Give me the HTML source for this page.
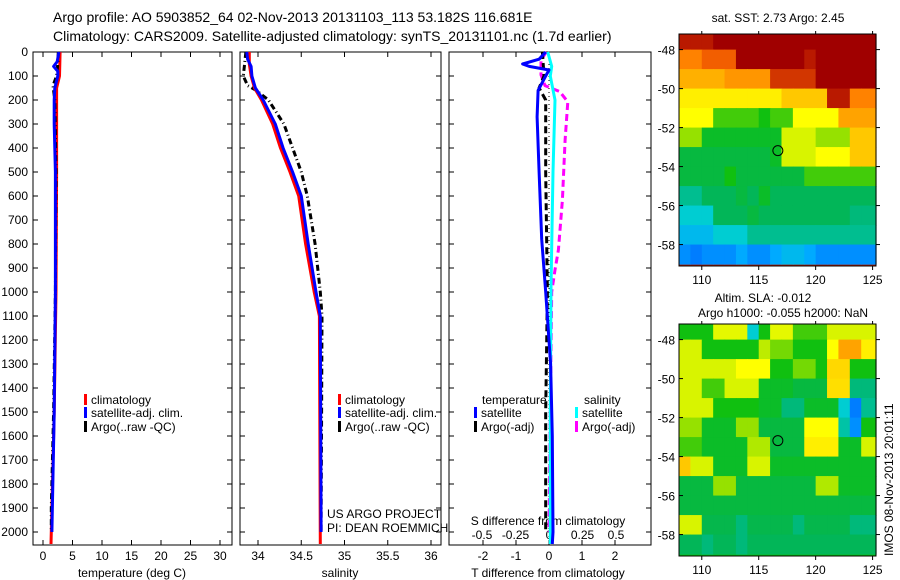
<!DOCTYPE html>
<html><head><meta charset="utf-8"><style>
html,body{margin:0;padding:0;background:#fff;}
svg{display:block;font-family:"Liberation Sans",Arial,sans-serif;}
</style></head><body>
<svg id="fig" width="900" height="580" viewBox="0 0 900 580">
<text x="53" y="22" font-size="14">Argo profile: AO 5903852_64 02-Nov-2013 20131103_113 53.182S 116.681E</text>
<text x="53" y="41" font-size="14">Climatology: CARS2009. Satellite-adjusted climatology: synTS_20131101.nc (1.7d earlier)</text>
</svg>
<script>
// ---------- data ----------
const depthTicks = [0,100,200,300,400,500,600,700,800,900,1000,1100,1200,1300,1400,1500,1600,1700,1800,1900,2000];
const tempTicks = [0,5,10,15,20,25,30];
const salTicks = [34,34.5,35,35.5,36];
const salTickLabels = ["34","34.5","35","35.5","36"];
const tdTicks = [-2,-1,0,1,2];
const sdTicks = [-0.5,-0.25,0,0.25,0.5];
const sdTickLabels = ["-0.5","-0.25","0","0.25","0.5"];

const climTDepth = [0,100,150,200,500,1000,1500,2050];
const climTVal   = [2.9,2.8,2.3,2.3,2.3,2.2,1.9,1.35];
const satTDepth  = [0,40,60,80,100,150,200,300,500,1000,1500,2000];
const satTVal    = [2.7,2.4,1.8,2.5,2.5,2.0,1.9,1.9,2.1,2.1,1.9,1.5];
const argoTDepth = [0,50,100,140,200,500,1000,1500,1900,2000];
const argoTVal   = [2.6,2.5,2.3,1.7,2.0,2.2,2.1,1.8,1.4,1.4];

const climSDepth = [0,50,100,150,200,300,400,500,600,800,1000,1100,2050];
const climSVal   = [33.9,33.9,33.92,33.96,34.04,34.17,34.26,34.37,34.47,34.55,34.65,34.71,34.72];
const satSDepth  = [0,30,60,100,150,200,300,400,500,600,800,1000,1100,2000];
const satSVal    = [33.87,33.88,33.92,33.93,33.97,34.06,34.2,34.29,34.4,34.5,34.58,34.67,34.72,34.73];
const argoSDepth = [0,100,140,160,200,300,400,500,600,800,1000,1100,2000];
const argoSVal   = [33.86,33.83,33.88,33.98,34.12,34.3,34.4,34.5,34.57,34.66,34.72,34.74,34.73];

const tdSatDepth = [0,30,50,60,75,100,160,270,500,780,1000,1300,1600,2000,2050];
const tdSatVal   = [-0.1,-0.3,-0.8,-0.6,0,-0.1,-0.33,-0.36,-0.3,-0.22,-0.1,0.05,0.1,0.12,0.1];
const tdArgoDepth = [0,100,150,200,500,1000,1500,2000];
const tdArgoVal   = [-0.2,-0.15,-0.3,-0.1,-0.1,-0.05,-0.1,-0.1];
const sdSatDepth = [0,60,100,200,500,980,1500,2050];
const sdSatVal   = [-0.01,0.02,0.01,0.045,0.03,0.015,0.01,0.01];
const sdArgoDepth = [0,33,95,140,165,208,367,617,825,908,1000,1500,2000];
const sdArgoVal   = [-0.02,-0.06,-0.06,-0.03,0.08,0.14,0.12,0.1,0.07,0.045,0.02,0.01,0.0];

const mapLatTicks = [-48,-50,-52,-54,-56,-58];
const mapLonTicks = [110,115,120,125];
// normalized colour values, rows lat -47.5..-58.5, cols lon 108.5..124.5
const sstGrid = [
[0.9,0.9,0.9,1,1,1,1,1,1,1,1,1,1,1,1,1,1],
[0.75,0.75,0.8,0.8,0.8,1,1,1,1,1,1,0.9,1,1,1,1,1],
[0.68,0.68,0.68,0.68,0.72,0.72,0.72,0.72,0.85,0.85,0.85,0.85,1,1,1,1,1],
[0.6,0.6,0.6,0.6,0.6,0.6,0.6,0.6,0.6,0.65,0.65,0.65,0.65,0.9,0.9,0.75,0.75],
[0.58,0.58,0.58,0.45,0.45,0.45,0.45,0.42,0.45,0.45,0.58,0.58,0.58,0.58,0.7,0.7,0.7],
[0.5,0.5,0.4,0.4,0.4,0.4,0.4,0.4,0.4,0.55,0.55,0.55,0.5,0.5,0.5,0.65,0.65],
[0.38,0.38,0.38,0.38,0.38,0.38,0.38,0.38,0.4,0.55,0.55,0.55,0.58,0.58,0.58,0.65,0.65],
[0.38,0.38,0.38,0.38,0.42,0.38,0.38,0.38,0.38,0.38,0.38,0.45,0.45,0.45,0.45,0.45,0.45],
[0.33,0.33,0.36,0.36,0.36,0.38,0.36,0.4,0.36,0.36,0.36,0.36,0.36,0.36,0.36,0.36,0.36],
[0.3,0.3,0.3,0.36,0.36,0.36,0.38,0.36,0.36,0.36,0.36,0.36,0.36,0.36,0.36,0.34,0.34],
[0.27,0.27,0.27,0.3,0.3,0.3,0.33,0.33,0.33,0.33,0.33,0.33,0.33,0.33,0.33,0.33,0.33],
[0.22,0.2,0.22,0.22,0.22,0.25,0.22,0.22,0.25,0.27,0.27,0.25,0.22,0.22,0.22,0.22,0.22]];
const slaGrid = [
[0.42,0.42,0.42,0.56,0.56,0.56,0.3,0.42,0.56,0.56,0.45,0.45,0.45,0.55,0.55,0.55,0.55],
[0.55,0.55,0.42,0.42,0.42,0.42,0.42,0.53,0.48,0.48,0.42,0.42,0.42,0.58,0.7,0.7,0.6],
[0.55,0.55,0.55,0.55,0.55,0.58,0.58,0.58,0.42,0.42,0.48,0.48,0.42,0.63,0.63,0.42,0.42],
[0.55,0.55,0.45,0.45,0.55,0.55,0.55,0.4,0.4,0.4,0.38,0.38,0.38,0.62,0.62,0.34,0.34],
[0.55,0.55,0.55,0.42,0.42,0.42,0.42,0.4,0.4,0.34,0.34,0.4,0.4,0.4,0.3,0.2,0.33],
[0.5,0.5,0.4,0.4,0.4,0.5,0.5,0.38,0.38,0.38,0.38,0.58,0.58,0.58,0.32,0.22,0.42],
[0.45,0.45,0.4,0.4,0.4,0.4,0.52,0.52,0.38,0.38,0.38,0.6,0.6,0.6,0.4,0.4,0.55],
[0.65,0.55,0.55,0.4,0.4,0.4,0.55,0.55,0.4,0.4,0.4,0.4,0.4,0.4,0.4,0.4,0.4],
[0.38,0.38,0.38,0.5,0.5,0.38,0.38,0.38,0.38,0.38,0.38,0.38,0.52,0.52,0.4,0.4,0.4],
[0.38,0.38,0.38,0.38,0.38,0.38,0.38,0.38,0.38,0.38,0.38,0.38,0.38,0.38,0.38,0.38,0.38],
[0.55,0.55,0.37,0.37,0.37,0.34,0.37,0.37,0.37,0.37,0.34,0.37,0.37,0.37,0.37,0.34,0.34],
[0.36,0.36,0.34,0.36,0.36,0.34,0.36,0.36,0.36,0.36,0.36,0.36,0.36,0.36,0.36,0.36,0.36]];
const argoLon = 116.681, argoLat = -53.182;

// ---------- helpers ----------
const svg = document.getElementById('fig');
const NS = 'http://www.w3.org/2000/svg';
function mk(tag, attrs, parent){ const e=document.createElementNS(NS,tag); for(const k in attrs) e.setAttribute(k,attrs[k]); (parent||svg).appendChild(e); return e; }
function txt(x,y,s,anchor,size,parent){ const t=mk('text',{x:x,y:y,'font-size':size||12,'text-anchor':anchor||'start'},parent); t.textContent=s; return t; }

const Y0=52, Y1=545;
const yD = d => 52 + d*0.24;
const xT = t => 43 + t*5.9;
const xS = s => 258 + (s-34)*86.5;
const xTD = v => 549 + v*33;
const xSD = v => 549 + v*134;

function frame(x0,x1,name){
  const r=mk('rect',{x:x0,y:Y0,width:x1-x0,height:Y1-Y0,fill:'none',stroke:'#000','stroke-width':1});
  
  
}
function xticks(vals,labels,fx,name){
  const g=mk('g',{});
  
  
  vals.forEach((v,i)=>{
    const x=fx(v);
    mk('line',{x1:x,x2:x,y1:Y0,y2:Y0+5,stroke:'#000'},g);
    mk('line',{x1:x,x2:x,y1:Y1,y2:Y1-5,stroke:'#000'},g);
    txt(x,560,labels?labels[i]:String(v),'middle',12,g);
  });
}
function line(depths,vals,fx,color,width,dash,name){
  const pts=depths.map((d,i)=>fx(vals[i]).toFixed(1)+','+yD(d).toFixed(1)).join(' ');
  const p=mk('polyline',{points:pts,fill:'none',stroke:color,'stroke-width':width,'stroke-dasharray':dash||'none','stroke-linejoin':'round'});
  
  
}
function legend(x,y,color,label,name){
  const g=mk('g',{});
  
  
  mk('rect',{x:x,y:y-10,width:3,height:11,fill:color},g);
  txt(x+7,y,label,'start',12,g);
}

// ---------- panels ----------
frame(33,232,'temperature-panel');
frame(240,441,'salinity-panel');
frame(449,651,'difference-panel');

// depth axis
const yg=mk('g',{});


depthTicks.forEach(d=>{
  const y=yD(d);
  txt(28,y+4,String(d),'end',12,yg);
  [[33,38],[232,227],[240,245],[441,436],[449,454],[651,646]].forEach(p=>mk('line',{x1:p[0],x2:p[1],y1:y,y2:y,stroke:'#000'},yg));
});

xticks(tempTicks,null,xT,'temperature-x-axis');
xticks(salTicks,salTickLabels,xS,'salinity-x-axis');
xticks(tdTicks,null,xTD,'t-difference-x-axis');
const sg=mk('g',{});


sdTicks.forEach((v,i)=>txt(xSD(v),539,sdTickLabels[i],'middle',12,sg));
txt(548,525,'S difference from climatology','middle',12,sg);

let t;
t=txt(132,577,'temperature (deg C)','middle',12);  
t=txt(340,577,'salinity','middle',12);  
t=txt(548,577,'T difference from climatology','middle',12);  

// zero line in diff panel
mk('line',{x1:xTD(0),x2:xTD(0),y1:Y0,y2:Y1,stroke:'#000','stroke-dasharray':'1,3'});

// temperature series
line(climTDepth,climTVal,xT,'#ff0000',3,null,'temp-climatology-line');
line(argoTDepth,argoTVal,xT,'#000',3,'6,3,1,3','temp-argo-line');
line(satTDepth,satTVal,xT,'#0000ff',3,null,'temp-satellite-line');
// salinity series
line(argoSDepth,argoSVal,xS,'#000',3,'6,3,1,3','sal-argo-line');
line(climSDepth,climSVal,xS,'#ff0000',3,null,'sal-climatology-line');
line(satSDepth,satSVal,xS,'#0000ff',3,null,'sal-satellite-line');
// differences
line(sdArgoDepth,sdArgoVal,xSD,'#ff00ff',3,'7,4','s-diff-argo-line');
line(tdArgoDepth,tdArgoVal,xTD,'#000',3,'7,4','t-diff-argo-line');
line(sdSatDepth,sdSatVal,xSD,'#00ffff',3,null,'s-diff-satellite-line');
line(tdSatDepth,tdSatVal,xTD,'#0000ff',3,null,'t-diff-satellite-line');

// legends
legend(84,404,'#ff0000','climatology','temp-legend-climatology');
legend(84,417,'#0000ff','satellite-adj. clim.','temp-legend-satellite');
legend(84,431,'#000','Argo(..raw -QC)','temp-legend-argo');
legend(338,404,'#ff0000','climatology','sal-legend-climatology');
legend(338,417,'#0000ff','satellite-adj. clim.','sal-legend-satellite');
legend(338,431,'#000','Argo(..raw -QC)','sal-legend-argo');
t=txt(482,404,'temperature','start',12);  
t=txt(584,404,'salinity','start',12);  
legend(474,417,'#0000ff','satellite','diff-legend-t-satellite');
legend(474,431,'#000','Argo(-adj)','diff-legend-t-argo');
legend(575,417,'#00ffff','satellite','diff-legend-s-satellite');
legend(575,431,'#ff00ff','Argo(-adj)','diff-legend-s-argo');
t=txt(327,518,'US ARGO PROJECT','start',12);  
t=txt(327,532,'PI: DEAN ROEMMICH','start',12);  

// ---------- maps ----------
const stops=[[0,[0,0,140]],[0.15,[0,80,255]],[0.25,[0,170,255]],[0.3,[0,205,210]],[0.35,[0,180,100]],[0.42,[16,192,16]],[0.5,[150,225,0]],[0.58,[255,255,0]],[0.68,[255,176,0]],[0.78,[255,110,0]],[0.88,[190,30,0]],[1,[160,0,0]]];
function cmap(v){
  for(let i=1;i<stops.length;i++){ if(v<=stops[i][0]){ const a=stops[i-1],b=stops[i]; const f=(v-a[0])/(b[0]-a[0]); const c=a[1].map((c0,k)=>Math.round(c0+(b[1][k]-c0)*f)); return 'rgb('+c+')'; } }
  return 'rgb(160,0,0)';
}
function drawMap(top,grid,name){
  const L=679,R=876,B=top+232;
  const lx = lon => L + (lon-108)*(R-L)/17.3;
  const ly = lat => top + (-47.2-lat)*(B-top)/11.9;
  const g=mk('g',{});
  
  
  mk('rect',{x:L,y:top,width:R-L,height:B-top,fill:cmap(grid[0][0])},g);
  grid.forEach((row,r)=>row.forEach((v,c)=>{
    const lat0 = r===0 ? -47.2 : -47-r, lat1 = -48-r;
    const lon0 = 108+c, lon1 = c===16 ? 125.3 : 109+c;
    const cell=mk('rect',{x:lx(lon0),y:ly(lat0),width:lx(lon1)-lx(lon0)+0.6,height:ly(lat1)-ly(lat0)+0.6,fill:cmap(v)},g);
    
    
  }));
  mk('rect',{x:L,y:top,width:R-L,height:B-top,fill:'none',stroke:'#000'},g);
  mapLatTicks.forEach(lat=>{ const y=ly(lat); mk('line',{x1:L,x2:L+4,y1:y,y2:y,stroke:'#000'},g); mk('line',{x1:R,x2:R+4,y1:y,y2:y,stroke:'#000'},g); txt(675,y+5,String(lat),'end',12,g); });
  mapLonTicks.forEach(lon=>{ const x=lx(lon); mk('line',{x1:x,x2:x,y1:top,y2:top-3,stroke:'#000'},g); mk('line',{x1:x,x2:x,y1:B,y2:B+4,stroke:'#000'},g); txt(x,B+18,String(lon),'middle',12,g); });
  const c=mk('circle',{cx:lx(argoLon),cy:ly(argoLat),r:5,fill:'none',stroke:'#000'},g);
  
  
}
drawMap(34,sstGrid,'sst-map');
drawMap(324,slaGrid,'sla-map');
t=txt(778,22,'sat. SST: 2.73 Argo: 2.45','middle',12);  
t=txt(763,302,'Altim. SLA: -0.012','middle',12);  
t=txt(783,317,'Argo h1000: -0.055 h2000: NaN','middle',12);  
t=mk('text',{x:0,y:0,'font-size':12,transform:'translate(893,556) rotate(-90)'}); t.textContent='IMOS 08-Nov-2013 20:01:11';
 
</script>
</body></html>
